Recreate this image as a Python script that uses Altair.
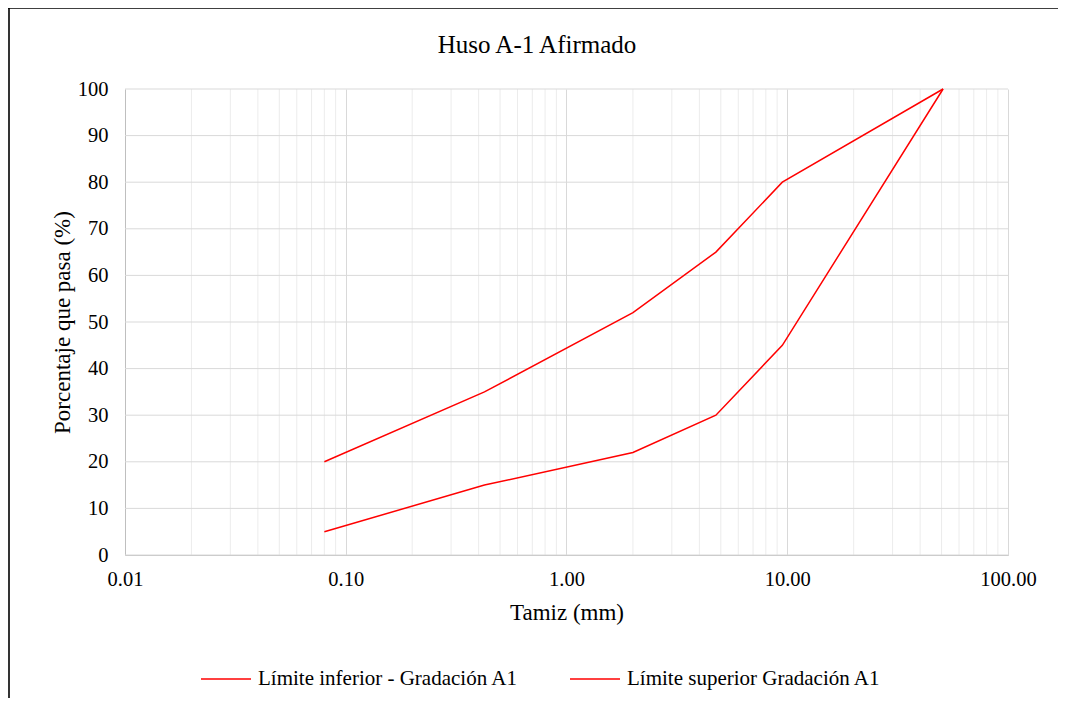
import altair as alt
import pandas as pd

# ---- data ----
tamiz_mm = [0.08, 0.425, 2.0, 4.75, 9.5, 50.8]
limite_inferior = [5, 15, 22, 30, 45, 100]
limite_superior = [20, 35, 52, 65, 80, 100]
serie_inferior = "Límite inferior - Gradación A1"
serie_superior = "Límite superior Gradación A1"
titulo = "Huso A-1 Afirmado"
x_ticks = [0.01, 0.1, 1, 10, 100]
x_minor = [round(m * d, 4) for d in [0.01, 0.1, 1, 10] for m in range(2, 10)]
y_ticks = list(range(0, 101, 10))

n = len(tamiz_mm)
df = pd.DataFrame({
    "tamiz": tamiz_mm * 2,
    "pasa": limite_inferior + limite_superior,
    "serie": [serie_inferior] * n + [serie_superior] * n,
    "orden": list(range(n)) * 2,
})
minor_df = pd.DataFrame({"tamiz": x_minor})
hgrid_df = pd.DataFrame({"pasa": y_ticks})
one_df = pd.DataFrame({"k": [0]})

FONT = "Liberation Serif, 'Times New Roman', serif"
LABEL_FS = 20.5
TITLE_FS = 23
xscale = alt.Scale(type="log", domain=[0.01, 100], nice=False)
yscale = alt.Scale(domain=[0, 100], nice=False, zero=True)

x_axis = alt.Axis(values=x_ticks, format=".2f", grid=True, gridColor="#d9d9d9",
                  ticks=False, labelPadding=14, titlePadding=12, labelFlush=False,
                  domainColor="#bfbfbf")
y_axis = alt.Axis(values=y_ticks, grid=False, ticks=False, labelPadding=17,
                  titlePadding=3, labelFlush=False, domainColor="#bfbfbf")

x_enc = alt.X("tamiz:Q", scale=xscale, axis=x_axis, title="Tamiz (mm)")
y_enc = alt.Y("pasa:Q", scale=yscale, axis=y_axis, title="Porcentaje que pasa (%)")

minor = alt.Chart(minor_df).mark_rule(color="#ececec", strokeWidth=1).encode(x=x_enc)
hgrid = alt.Chart(hgrid_df).mark_rule(color="#d9d9d9", strokeWidth=1).encode(y=y_enc)

lines = alt.Chart(df).mark_line(strokeWidth=1.5).encode(
    x=x_enc,
    y=y_enc,
    order="orden:Q",
    color=alt.Color(
        "serie:N",
        scale=alt.Scale(domain=[serie_inferior, serie_superior], range=["#ff0000", "#ff0000"]),
        legend=alt.Legend(
            title=None, orient="none", direction="horizontal", columns=2,
            legendX=75, legendY=564, symbolType="stroke", symbolSize=2500,
            symbolStrokeWidth=1.5, labelFont=FONT, labelFontSize=21,
            labelColor="black", labelLimit=0, columnPadding=48, labelOffset=6,
        ),
    ),
)

title_mark = alt.Chart(one_df).mark_text(
    text=titulo, font=FONT, fontSize=25, color="black", align="center", baseline="middle"
).encode(x=alt.value(412), y=alt.value(-44))

frame_left = alt.Chart(one_df).mark_rule(color="black", strokeWidth=1.6).encode(
    x=alt.value(-116), y=alt.value(-81), y2=alt.value(610))
frame_top = alt.Chart(one_df).mark_rule(color="black", strokeWidth=1.6).encode(
    x=alt.value(-117), x2=alt.value(940), y=alt.value(-81))

chart = alt.layer(minor, hgrid, lines, title_mark, frame_left, frame_top).properties(
    width=883,
    height=466,
    padding={"left": 117, "top": 81, "right": 50, "bottom": 143},
    autosize=alt.AutoSizeParams(type="none"),
).configure_view(stroke=None).configure_axis(
    labelFont=FONT, labelFontSize=LABEL_FS, labelColor="black",
    titleFont=FONT, titleFontSize=TITLE_FS, titleFontWeight="normal", titleColor="black",
)

chart.save("out.html", embed_options={"renderer": "svg", "actions": False})
